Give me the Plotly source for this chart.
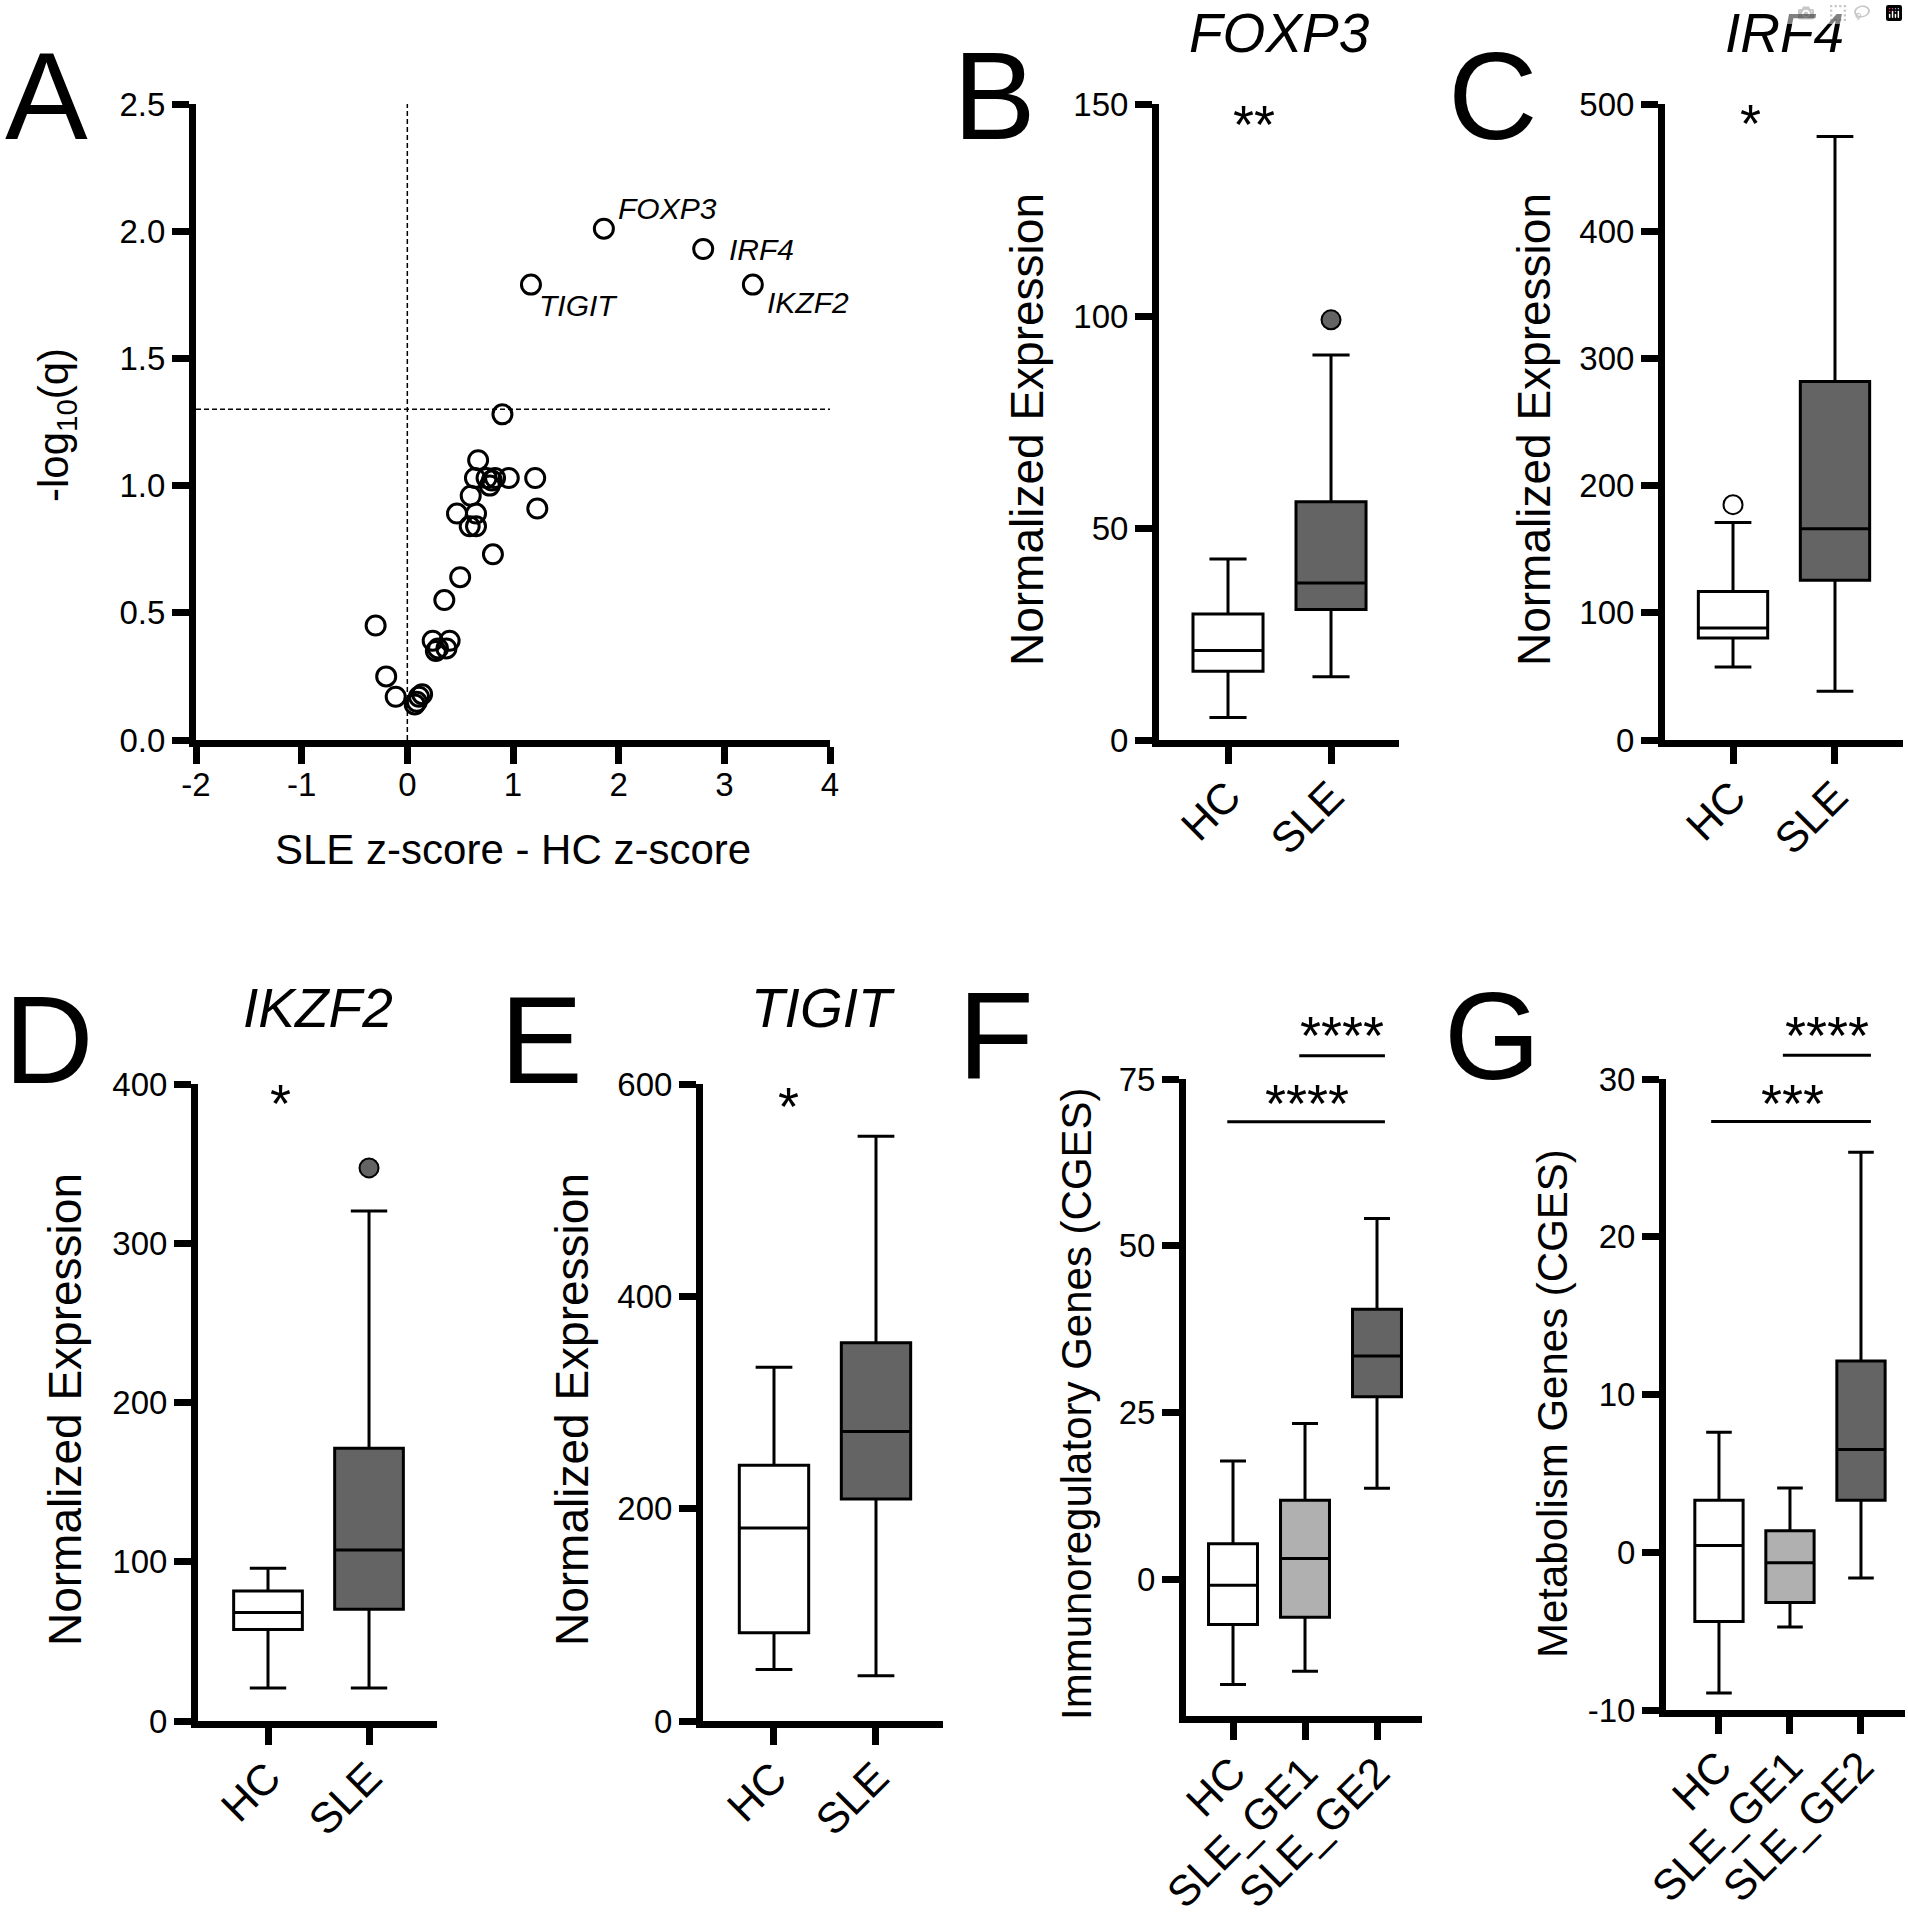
import plotly.graph_objects as go

W, H = 1908, 1920
FONT = "Liberation Sans, Arial, sans-serif"

# ---------------- Data ----------------
# Panel A: volcano-like scatter
zscore_diff = [1.86, 2.80, 3.27, 1.17, 0.90, 0.67, 0.64, 0.75, 0.83, 0.96, 0.78, 0.80,
               1.21, 1.23, 0.60, 0.47, 0.65, 0.59, 0.65, 0.81, 0.50, 0.35, -0.30,
               0.24, 0.40, 0.29, 0.37, 0.27, -0.20, -0.11, 0.11, 0.14, 0.09, 0.07]
neg_log10_q = [2.01, 1.93, 1.79, 1.79, 1.28, 1.10, 1.03, 1.03, 1.03, 1.03, 1.00, 1.02,
               1.03, 0.91, 0.96, 0.89, 0.89, 0.84, 0.84, 0.73, 0.64, 0.55, 0.45,
               0.39, 0.39, 0.36, 0.36, 0.35, 0.25, 0.17, 0.17, 0.18, 0.15, 0.14]
labeled_genes = ["FOXP3", "IRF4", "IKZF2", "TIGIT"]   # first four points
q_threshold = 1.3

groups2 = ["HC", "SLE"]
groups3 = ["HC", "SLE_GE1", "SLE_GE2"]

foxp3_lower = [5.3, 14.9]
foxp3_q1 = [16.2, 30.8]
foxp3_median = [21.1, 37.0]
foxp3_q3 = [29.7, 56.2]
foxp3_upper = [42.7, 90.8]
foxp3_outliers = {"SLE": [99.1]}

irf4_lower = [57.3, 38.3]
irf4_q1 = [80.2, 125.6]
irf4_median = [88.1, 166.1]
irf4_q3 = [116.7, 281.9]
irf4_upper = [170.9, 474.4]
irf4_outliers = {"HC": [185.0]}

ikzf2_lower = [20.8, 20.8]
ikzf2_q1 = [57.4, 70.1]
ikzf2_median = [68.1, 107.4]
ikzf2_q3 = [81.6, 171.3]
ikzf2_upper = [95.9, 320.3]
ikzf2_outliers = {"SLE": [347.3]}

tigit_lower = [48.5, 42.7]
tigit_q1 = [83.2, 209.0]
tigit_median = [181.9, 272.6]
tigit_q3 = [240.8, 356.3]
tigit_upper = [333.2, 550.9]

immuno_lower = [-15.7, -13.7, 13.7]
immuno_q1 = [-6.7, -5.6, 27.4]
immuno_median = [-0.8, 3.2, 33.5]
immuno_q3 = [5.4, 11.9, 40.5]
immuno_upper = [17.8, 23.4, 54.1]

metab_lower = [-8.93, -4.74, -1.63]
metab_q1 = [-4.39, -3.18, 3.30]
metab_median = [0.43, -0.66, 6.52]
metab_q3 = [3.30, 1.36, 12.12]
metab_upper = [7.60, 4.08, 25.36]

# ---------------- Layout geometry (pixels) ----------------
P = {
    1: dict(x=(196, 830), y=(104, 740), xr=(-2, 4), yr=(0, 2.5)),
    2: dict(x=(1159, 1399), y=(104, 740), xr=(-0.67, 1.66), yr=(0, 150)),
    3: dict(x=(1665, 1903), y=(104, 740), xr=(-0.667, 1.667), yr=(0, 500)),
    4: dict(x=(198, 437), y=(1084, 1721), xr=(-0.693, 1.673), yr=(0, 400)),
    5: dict(x=(703, 943), y=(1084, 1721), xr=(-0.696, 1.657), yr=(0, 600)),
    6: dict(x=(1186, 1422), y=(1079, 1716), xr=(-0.653, 2.625), yr=(-20.4, 75)),
    7: dict(x=(1666, 1905), y=(1079, 1710), xr=(-0.746, 2.62), yr=(-10, 30)),
}

WHITE, DARK, LIGHT = "#ffffff", "#646464", "#b0b0b0"


def d2p(i, xv, yv):
    p = P[i]
    x0, x1 = p["x"]
    y0, y1 = p["y"]
    xr, yr = p["xr"], p["yr"]
    px = x0 + (xv - xr[0]) / (xr[1] - xr[0]) * (x1 - x0)
    py = y1 - (yv - yr[0]) / (yr[1] - yr[0]) * (y1 - y0)
    return px / W, 1 - py / H


fig = go.Figure()

# Panel A scatter
fig.add_trace(go.Scatter(
    x=zscore_diff, y=neg_log10_q, mode="markers", xaxis="x", yaxis="y",
    marker=dict(symbol="circle-open", size=19, color="black", line=dict(width=3, color="black")),
    showlegend=False, hoverinfo="skip"))


def add_boxes(i, groups, lower, q1, med, q3, upper, colors, outliers=None):
    ax = "" if i == 1 else str(i)
    for k, g in enumerate(groups):
        fig.add_trace(go.Box(
            x=[k], lowerfence=[lower[k]], q1=[q1[k]], median=[med[k]], q3=[q3[k]],
            upperfence=[upper[k]], width=0.68, whiskerwidth=0.53,
            fillcolor=colors[k], line=dict(color="black", width=3),
            boxpoints=False, xaxis="x" + ax, yaxis="y" + ax,
            showlegend=False, hoverinfo="skip", name=g))
        if outliers and g in outliers:
            fig.add_trace(go.Scatter(
                x=[k] * len(outliers[g]), y=outliers[g], mode="markers",
                xaxis="x" + ax, yaxis="y" + ax,
                marker=dict(size=19, color=colors[k], line=dict(color="black", width=2)),
                showlegend=False, hoverinfo="skip", cliponaxis=False))


add_boxes(2, groups2, foxp3_lower, foxp3_q1, foxp3_median, foxp3_q3, foxp3_upper, [WHITE, DARK], foxp3_outliers)
add_boxes(3, groups2, irf4_lower, irf4_q1, irf4_median, irf4_q3, irf4_upper, [WHITE, DARK], irf4_outliers)
add_boxes(4, groups2, ikzf2_lower, ikzf2_q1, ikzf2_median, ikzf2_q3, ikzf2_upper, [WHITE, DARK], ikzf2_outliers)
add_boxes(5, groups2, tigit_lower, tigit_q1, tigit_median, tigit_q3, tigit_upper, [WHITE, DARK])
add_boxes(6, groups3, immuno_lower, immuno_q1, immuno_median, immuno_q3, immuno_upper, [WHITE, LIGHT, DARK])
add_boxes(7, groups3, metab_lower, metab_q1, metab_median, metab_q3, metab_upper, [WHITE, LIGHT, DARK])

# ---------------- Axes ----------------
common = dict(showline=True, linewidth=7, linecolor="black", ticks="outside", ticklen=17,
              tickwidth=7, tickcolor="black", showgrid=False, zeroline=False, automargin=False,
              fixedrange=True, tickfont=dict(family=FONT, size=33, color="black"))

ytick_sets = {
    1: [0, 0.5, 1.0, 1.5, 2.0, 2.5],
    2: [0, 50, 100, 150],
    3: [0, 100, 200, 300, 400, 500],
    4: [0, 100, 200, 300, 400],
    5: [0, 200, 400, 600],
    6: [0, 25, 50, 75],
    7: [-10, 0, 10, 20, 30],
}
layout = {}
for i, p in P.items():
    ax = "" if i == 1 else str(i)
    xd = [p["x"][0] / W, p["x"][1] / W]
    yd = [1 - p["y"][1] / H, 1 - p["y"][0] / H]
    if i == 1:
        xt = [-2, -1, 0, 1, 2, 3, 4]
        xa = dict(common, domain=xd, range=list(p["xr"]), anchor="y", tickvals=xt,
                  ticktext=[str(v) for v in xt], ticklabelstandoff=-8)
        ytxt = ["%.1f" % v for v in ytick_sets[i]]
    else:
        grp = groups3 if i >= 6 else groups2
        xa = dict(common, domain=xd, range=list(p["xr"]), anchor="y" + ax,
                  tickvals=list(range(len(grp))), ticktext=grp, tickangle=-45,
                  ticklabelstandoff=-10,
                  tickfont=dict(family=FONT, size=43, color="black"))
        ytxt = [str(v) for v in ytick_sets[i]]
    ya = dict(common, domain=yd, range=list(p["yr"]), anchor="x" + ax,
              tickvals=ytick_sets[i], ticktext=ytxt)
    layout["xaxis" + ax] = xa
    layout["yaxis" + ax] = ya

fig.update_layout(**layout)

annotations = []
shapes = []


def ann(text, xp, yp, size, xanchor="center", yanchor="middle", angle=0, italic=False, yshift=0):
    annotations.append(dict(
        text=text, x=xp, y=yp, xref="paper", yref="paper", showarrow=False,
        xanchor=xanchor, yanchor=yanchor, textangle=angle, yshift=yshift,
        font=dict(family=FONT, size=size, color="black",
                  style="italic" if italic else "normal")))


# Panel letters
for letter, lx, ly in [("A", 3, 96), ("B", 951, 96), ("C", 1446, 96),
                       ("D", 2, 1040), ("E", 498, 1040), ("F", 956, 1036), ("G", 1442, 1036)]:
    ann(letter, lx / W, 1 - ly / H, 124, xanchor="left")

# Gene titles
for i, title, ty in [(2, "FOXP3", 0), (3, "IRF4", 0), (4, "IKZF2", 975), (5, "TIGIT", 975)]:
    cx = (P[i]["x"][0] + P[i]["x"][1]) / 2
    ann(title, cx / W, 1 - ty / H, 55, yanchor="top", italic=True)

# Axis titles
ann("-log<sub>10</sub>(q)", 57 / W, 1 - 425 / H, 42, angle=-90)
ann("SLE z-score - HC z-score", 513 / W, 1 - 850 / H, 42)
for tx, ty, txt, sz in [(1027, 430, "Normalized Expression", 46),
                        (1534, 430, "Normalized Expression", 46),
                        (65, 1410, "Normalized Expression", 46),
                        (572, 1410, "Normalized Expression", 46),
                        (1076, 1404, "Immunoregulatory Genes (CGES)", 42),
                        (1552, 1404, "Metabolism Genes (CGES)", 42)]:
    ann(txt, tx / W, 1 - ty / H, sz, angle=-90)

# Labels on highlighted genes in panel A
label_offsets = {"FOXP3": (12, 20), "IRF4": (24, 0), "IKZF2": (12, -18), "TIGIT": (6, -21)}
for k, g in enumerate(labeled_genes):
    dx, dy = label_offsets[g]
    annotations.append(dict(
        text=g, x=zscore_diff[k], y=neg_log10_q[k], xref="x", yref="y", showarrow=False,
        xanchor="left", yanchor="middle", xshift=dx, yshift=dy,
        font=dict(family=FONT, size=30, color="black", style="italic")))

# Significance stars
stars = [(2, "**", 0.25, 147.2), (3, "*", 0.17, 491), (4, "*", 0.12, 393), (5, "*", 0.14, 586.8),
         (6, "****", 1.51, 82.8), (6, "****", 1.03, 72.6),
         (7, "****", 1.52, 33.3), (7, "***", 1.03, 29.0)]
for i, s, sx, sy in stars:
    xp, yp = d2p(i, sx, sy)
    ann(s, xp, yp, 54, yshift=-8)

# Significance bars (F, G)
bars = [(6, 0.92, 2.11, 78.5), (6, -0.08, 2.11, 68.6),
        (7, 0.90, 2.14, 31.5), (7, -0.11, 2.14, 27.3)]
for i, xa0, xa1, yv in bars:
    x0p, y0p = d2p(i, xa0, yv)
    x1p, _ = d2p(i, xa1, yv)
    shapes.append(dict(type="line", xref="paper", yref="paper", x0=x0p, x1=x1p, y0=y0p, y1=y0p,
                       line=dict(color="black", width=3)))

# Dashed reference lines in panel A
shapes.append(dict(type="line", xref="x", yref="y", x0=0, x1=0, y0=0, y1=2.5,
                   line=dict(color="black", width=1.5, dash="5px,3px")))
shapes.append(dict(type="line", xref="x", yref="y", x0=-2, x1=4, y0=q_threshold, y1=q_threshold,
                   line=dict(color="black", width=1.5, dash="5px,3px")))

fig.update_layout(
    width=W, height=H, margin=dict(l=0, r=0, t=0, b=0, autoexpand=False),
    paper_bgcolor="white", plot_bgcolor="white",
    font=dict(family=FONT, color="black"),
    annotations=annotations, shapes=shapes, showlegend=False, boxmode="overlay",
)

fig.write_html("out.html", post_script="document.body.style.margin='0px';document.body.style.overflow='hidden';")
